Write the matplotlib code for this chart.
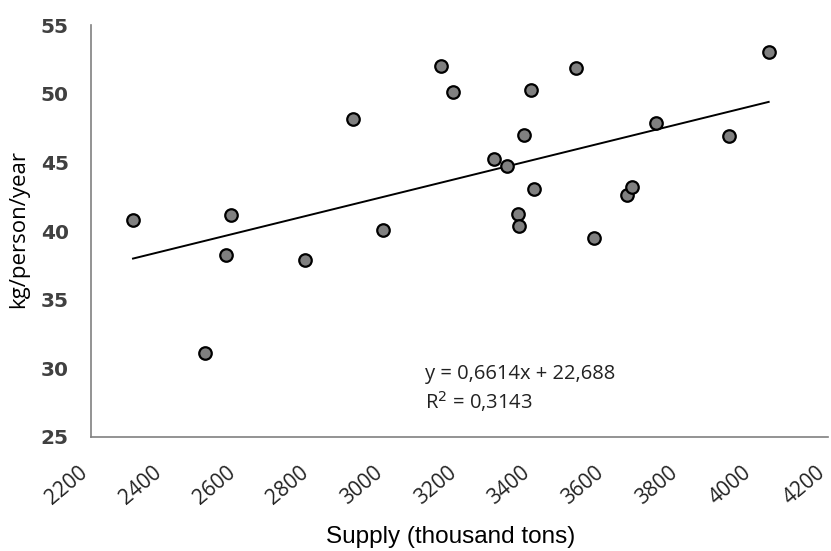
import numpy as np
import matplotlib.pyplot as plt
import matplotlib.transforms as mtransforms

# Supply (thousand tons) vs consumption (kg/person/year)
supply = [2314, 2509, 2566, 2580, 2781, 2911, 2992, 3150, 3182, 3294, 3329,
          3359, 3361, 3374, 3395, 3401, 3516, 3564, 3655, 3668, 3733, 3932, 4039]
consumption = [40.8, 31.1, 38.25, 41.2, 37.9, 48.15, 40.1, 52.0, 50.1, 45.26, 44.7,
               41.26, 40.36, 47.0, 50.27, 43.08, 51.85, 39.49, 42.6, 43.18, 47.84, 46.94, 53.06]

# trend line coefficients as shown on the chart (x in hundreds)
slope = 0.6614
intercept = 22.688
r2 = "0,3143"

x_ticks = [2200, 2400, 2600, 2800, 3000, 3200, 3400, 3600, 3800, 4000, 4200]
y_ticks = [25, 30, 35, 40, 45, 50, 55]

fig = plt.figure(figsize=(8.31, 5.51), dpi=100)
ax = fig.add_axes([0.1095, 0.2069, 0.8869, 0.7477])

ax.plot(supply, consumption, 'o', markersize=9, markerfacecolor='#808080',
        markeredgecolor='black', markeredgewidth=1.6, zorder=3)

line_x = np.array([min(supply), max(supply)])
ax.plot(line_x, slope * line_x / 100 + intercept, color='black', linewidth=1.4, zorder=2)

ax.text(3106, 29.6, "y = 0,6614x + 22,688", fontsize=14.5, family='Open Sans',
        va='center', color='#222222')
ax.text(3106, 27.6, "R$^2$ = " + r2, fontsize=14.5, family='Open Sans',
        va='center', color='#222222')

ax.set_xlim(2200, 4200)
ax.set_ylim(25, 55)
ax.set_xticks(x_ticks)
ax.set_yticks(y_ticks)
ax.set_xticklabels([str(t) for t in x_ticks], rotation=40, ha='right', va='center',
                   rotation_mode='anchor', fontsize=15, family='Open Sans', color='#222222')
ax.set_yticklabels([str(t) for t in y_ticks], fontsize=14.5, fontweight='bold', color='#404040')
ax.tick_params(axis='y', length=0, pad=16)
ax.tick_params(axis='x', length=0, pad=24)

# nudge rotated labels a bit left so their ends sit at the ticks
shift = mtransforms.ScaledTranslation(-0.06, 0, fig.dpi_scale_trans)
for lbl in ax.get_xticklabels():
    lbl.set_transform(lbl.get_transform() + shift)

for s in ['top', 'right']:
    ax.spines[s].set_visible(False)
for s in ['left', 'bottom']:
    ax.spines[s].set_color('#808080')
    ax.spines[s].set_linewidth(1.2)

ax.set_ylabel("kg/person/year", fontsize=16, family='Open Sans')
ax.yaxis.set_label_coords(-0.084, 0.505)
ax.set_xlabel("Supply (thousand tons)", fontsize=17.5, family='Liberation Sans')
ax.xaxis.set_label_coords(0.488, -0.215)

fig.savefig("out.png", dpi=100)
